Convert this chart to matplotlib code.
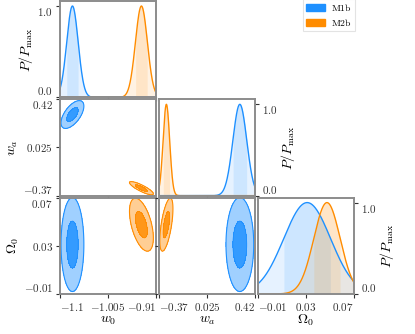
import numpy as np
import matplotlib
matplotlib.use("Agg")
import matplotlib.pyplot as plt
from matplotlib.patches import Patch

plt.rcParams['mathtext.fontset'] = 'cm'
plt.rcParams['font.family'] = ['DejaVu Serif']

# Parameters and panel limits (ticks are at lo, mid, hi)
param_labels = [r'$w_0$', r'$w_a$', r'$\Omega_0$']
param_lims = [(-1.1, -0.91), (-0.37, 0.42), (-0.01, 0.07)]
tick_texts = [['-1.1', '-1.005', '-0.91'],
              ['-0.37', '0.025', '0.42'],
              ['-0.01', '0.03', '0.07']]

# Two models: means, 1-sigma errors, correlations
model_names = ['M1b', 'M2b']
model_colors = ['#1E90FF', '#FF8C00']
means_m1b = [-1.0754, 0.295, 0.031]
sigmas_m1b = [0.0113, 0.057, 0.0195]
corr_m1b = [[1.0, 0.6, 0.0],
            [0.6, 1.0, 0.0],
            [0.0, 0.0, 1.0]]
means_m2b = [-0.939, -0.309, 0.0475]
sigmas_m2b = [0.0118, 0.027, 0.011]
corr_m2b = [[1.0, -0.85, -0.5],
            [-0.85, 1.0, 0.6],
            [-0.5, 0.6, 1.0]]

models = [(np.array(means_m1b), np.array(sigmas_m1b), np.array(corr_m1b)),
          (np.array(means_m2b), np.array(sigmas_m2b), np.array(corr_m2b))]

n = len(param_labels)
fig, axes = plt.subplots(n, n, figsize=(4.15, 3.34), dpi=100)
fig.subplots_adjust(left=0.1446, right=0.853, top=0.997, bottom=0.12,
                    wspace=0.03, hspace=0.02)

TICK_FS = 8
LABEL_FS = 10


def set_ticks(ax, axis, k, show):
    lo, hi = param_lims[k]
    vals = [lo, 0.5 * (lo + hi), hi]
    labs = ['$' + t + '$' for t in tick_texts[k]] if show else ['', '', '']
    if axis == 'x':
        ax.set_xlim(lo, hi)
        ax.set_xticks(vals)
        ax.set_xticklabels(labs, fontsize=TICK_FS)
        ticks = ax.xaxis.get_major_ticks()
        ticks[0].label1.set_ha('left')
        ticks[-1].label1.set_ha('right')
    else:
        ax.set_ylim(lo, hi)
        ax.set_yticks(vals)
        ax.set_yticklabels(labs, fontsize=TICK_FS)
        ticks = ax.yaxis.get_major_ticks()
        ticks[0].label1.set_va('bottom')
        ticks[-1].label1.set_va('top')


def style_frame(ax):
    for s in ax.spines.values():
        s.set_color('#8c8c8c')
        s.set_linewidth(1.4)
    ax.tick_params(direction='out', length=3, width=0.8, colors='#333333',
                   pad=2)


for i in range(n):
    for j in range(n):
        ax = axes[i, j]
        if j > i:
            ax.axis('off')
            continue
        style_frame(ax)
        if i == j:
            lo, hi = param_lims[i]
            x = np.linspace(lo, hi, 400)
            for (mu, sig, corr), col in zip(models, model_colors):
                y = np.exp(-0.5 * ((x - mu[i]) / sig[i]) ** 2)
                ax.fill_between(x, 0, y, color=col, alpha=0.11, lw=0)
                band = (x > mu[i] - sig[i]) & (x < mu[i] + sig[i])
                ax.fill_between(x[band], 0, y[band], color=col, alpha=0.12, lw=0)
                ax.plot(x, y, color=col, lw=1.0)
            set_ticks(ax, 'x', i, i == n - 1)
            ax.set_ylim(0, 1.055)
            ax.set_yticks([0.0, 1.0])
            ax.set_yticklabels([r'$0.0$', r'$1.0$'], fontsize=TICK_FS)
            if i == 0:
                yt = ax.yaxis.get_major_ticks()
                yt[0].label1.set_va('bottom')
                yt[-1].label1.set_va('top')
                ax.set_ylabel(r'$P/P_{\rm max}$', fontsize=LABEL_FS, labelpad=2)
            else:
                ax.yaxis.tick_right()
                ax.yaxis.set_label_position('right')
                ax.tick_params(axis='y', direction='out', length=3, width=0.8,
                               colors='#333333', pad=2)
                yt = ax.yaxis.get_major_ticks()
                yt[0].label2.set_va('bottom')
                yt[-1].label2.set_va('top')
                ax.set_ylabel(r'$P/P_{\rm max}$', fontsize=LABEL_FS, labelpad=1)
        else:
            xlo, xhi = param_lims[j]
            ylo, yhi = param_lims[i]
            gx = np.linspace(xlo, xhi, 300)
            gy = np.linspace(ylo, yhi, 300)
            X, Y = np.meshgrid(gx, gy)
            for (mu, sig, corr), col in zip(models, model_colors):
                cov = np.array([[sig[j] ** 2, corr[i][j] * sig[i] * sig[j]],
                                [corr[i][j] * sig[i] * sig[j], sig[i] ** 2]])
                inv = np.linalg.inv(cov)
                dx = X - mu[j]
                dy = Y - mu[i]
                d2 = inv[0, 0] * dx * dx + 2 * inv[0, 1] * dx * dy + inv[1, 1] * dy * dy
                ax.contourf(X, Y, d2, levels=[1.0, 4.0], colors=[col], alpha=0.42)
                ax.contourf(X, Y, d2, levels=[0.0, 1.0], colors=[col], alpha=0.9)
                ax.contour(X, Y, d2, levels=[1.0, 4.0], colors=[col],
                           linewidths=[0.5, 0.8])
            set_ticks(ax, 'x', j, i == n - 1)
            set_ticks(ax, 'y', i, j == 0)
            if j == 0:
                ax.set_ylabel(param_labels[i], fontsize=LABEL_FS, labelpad=2)
        if i == n - 1:
            ax.set_xlabel(param_labels[j], fontsize=LABEL_FS, labelpad=0)

handles = [Patch(facecolor=c, edgecolor=c) for c in model_colors]
leg = fig.legend(handles, [r'$\mathrm{' + m + '}$' for m in model_names],
                 loc='upper right', bbox_to_anchor=(0.855, 1.003),
                 fontsize=7, handlelength=2.0, handleheight=0.75,
                 handletextpad=0.6, frameon=True, fancybox=False,
                 borderpad=0.3, labelspacing=0.4, borderaxespad=0.0)
leg.get_frame().set_edgecolor('#dddddd')
leg.get_frame().set_linewidth(0.8)

fig.savefig('out.png', dpi=100)
